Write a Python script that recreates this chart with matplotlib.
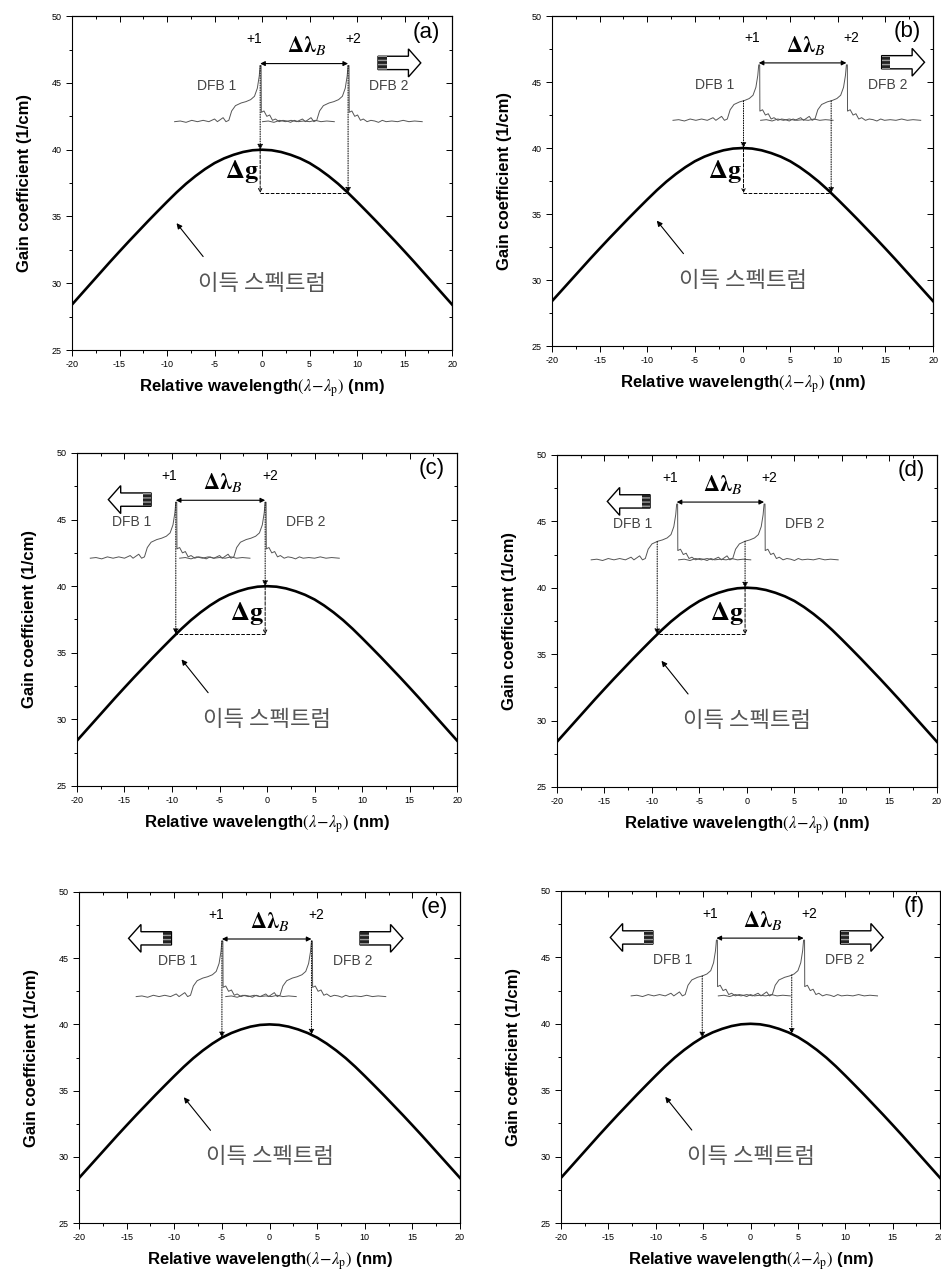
import numpy as np
import matplotlib
matplotlib.use('Agg')
import matplotlib.pyplot as plt
from matplotlib.patches import FancyArrow, Rectangle
from matplotlib.ticker import MultipleLocator

plt.rcParams['font.family'] = ['Liberation Sans', 'Noto Sans CJK KR', 'DejaVu Sans']
plt.rcParams['axes.unicode_minus'] = False

# gain spectrum (same in every panel)
wl = list(range(-20, 21))
gain = [28.4, 29.2, 30.0, 30.8, 31.6, 32.38, 33.15, 33.9, 34.65, 35.38, 36.1,
        36.8, 37.45, 38.03, 38.55, 39.0, 39.35, 39.62, 39.83, 39.96, 40.0,
        39.96, 39.83, 39.62, 39.35, 39.0, 38.55, 38.03, 37.45, 36.8, 36.1,
        35.38, 34.65, 33.9, 33.15, 32.38, 31.6, 30.8, 30.0, 29.2, 28.4]

# DFB lasing spectrum sketch: offset from the lasing mode (nm), level on the gain axis
spec_dx = [-9.0, -8.4, -7.8, -7.2, -6.6, -6.0, -5.4, -4.8, -4.5, -4.2, -3.9, -3.6, -3.3,
           -3.0, -2.6, -2.0, -1.5, -1.0, -0.6, -0.3, -0.1, 0.0, 0.1, 0.12, 0.4, 0.7,
           1.0, 1.3, 1.6, 2.0, 2.4, 2.8, 3.2, 3.6, 4.0, 4.6, 5.2, 5.8, 6.4, 7.0, 7.8]
spec_g = [42.1, 42.15, 42.05, 42.2, 42.1, 42.2, 42.1, 42.3, 42.1, 42.25, 42.4, 42.1, 42.2,
          42.9, 43.3, 43.5, 43.6, 43.75, 44.0, 44.6, 45.5, 46.3, 46.3, 42.8, 42.9, 42.5,
          42.6, 42.2, 42.3, 42.1, 42.2, 42.15, 42.05, 42.2, 42.1, 42.15, 42.1, 42.2, 42.1,
          42.15, 42.1]

panel_tags = ['(a)', '(b)', '(c)', '(d)', '(e)', '(f)']
mode1 = [-0.2, 1.7, -9.6, -7.4, -5.0, -3.6]     # +1 mode (DFB 1)
mode2 = [9.05, 10.9, -0.2, 1.8, 4.4, 5.6]       # +2 mode (DFB 2)
probe1 = [-0.2, 0.1, -9.6, -9.45, -5.0, -5.1]   # where DFB 1 drops onto the gain curve
probe2 = [9.05, 9.3, -0.2, -0.2, 4.4, 4.35]     # where DFB 2 drops onto the gain curve
show_dg = [True, True, True, True, False, False]
left_tail = [None, None, -12.2, -10.2, -10.3, -10.3]
right_tail = [12.2, 14.6, None, None, 9.5, 9.5]

rects = [(0.0765, 0.7274, 0.404, 0.260), (0.5866, 0.7305, 0.405, 0.257),
         (0.0818, 0.3879, 0.404, 0.2593), (0.5919, 0.3871, 0.4038, 0.2586),
         (0.0840, 0.0475, 0.4049, 0.2578), (0.5962, 0.0475, 0.4028, 0.2586)]


def block_arrow(ax, tail, d):
    ax.add_patch(FancyArrow(tail, 46.5, d * 4.5, 0, width=1.0, head_width=2.1,
                            head_length=1.3, length_includes_head=True,
                            fc='white', ec='k', lw=1.0, zorder=4))
    x0 = tail if d > 0 else tail - 0.9
    ax.add_patch(Rectangle((x0, 46.0), 0.9, 1.0, fc='#222222', ec='#999999',
                           hatch='----', lw=0, zorder=5))


fig = plt.figure(figsize=(9.41, 12.84), dpi=100)

for i, r in enumerate(rects):
    ax = fig.add_axes(r)
    ax.plot(wl, gain, color='k', lw=1.9, zorder=3)
    ax.set_xlim(-20, 20)
    ax.set_ylim(25, 50)
    ax.xaxis.set_major_locator(MultipleLocator(5))
    ax.xaxis.set_minor_locator(MultipleLocator(2.5))
    ax.yaxis.set_major_locator(MultipleLocator(5))
    ax.yaxis.set_minor_locator(MultipleLocator(2.5))
    ax.tick_params(which='both', direction='out', labelsize=6.5, width=0.7)
    ax.tick_params(which='major', length=4)
    ax.tick_params(which='minor', length=2.5)
    for s in ax.spines.values():
        s.set_linewidth(0.8)

    top = ax.secondary_xaxis('top')
    top.xaxis.set_major_locator(MultipleLocator(5))
    top.xaxis.set_minor_locator(MultipleLocator(2.5))
    top.tick_params(which='both', direction='in', labeltop=False, width=0.7)
    top.tick_params(which='major', length=4)
    top.tick_params(which='minor', length=2.5)
    right = ax.secondary_yaxis('right')
    right.yaxis.set_major_locator(MultipleLocator(5))
    right.yaxis.set_minor_locator(MultipleLocator(2.5))
    right.tick_params(which='both', direction='in', labelright=False, width=0.7)
    right.tick_params(which='major', length=4)
    right.tick_params(which='minor', length=2.5)

    ax.set_ylabel('Gain coefficient (1/cm)', fontsize=12, fontweight='bold', labelpad=14)
    ax.set_xlabel(r'Relative wavelength$(\lambda\!-\!\lambda_{\rm p})$ (nm)', fontsize=12,
                  fontweight='bold', labelpad=6, math_fontfamily='stix')

    m1, m2 = mode1[i], mode2[i]
    for m in (m1, m2):
        ax.plot(np.array(spec_dx) + m, spec_g, color='#555555', lw=0.7, zorder=2)

    # mode spacing
    ax.annotate('', xy=(m2, 46.45), xytext=(m1, 46.45),
                arrowprops=dict(arrowstyle='<|-|>', color='k', lw=0.8,
                                mutation_scale=7, shrinkA=0, shrinkB=0))
    ax.text(m1 - 0.65, 48.3, '+1', fontsize=10, ha='center', va='center')
    ax.text(m2 + 0.55, 48.3, '+2', fontsize=10, ha='center', va='center')
    ax.text((m1 + m2) / 2 + 0.3, 47.8, r'$\mathbf{\Delta\lambda}_{B}$', fontsize=16,
            ha='center', va='center', math_fontfamily='stix')
    ax.text(m1 - 4.6, 44.8, 'DFB 1', fontsize=10, color='#444444', ha='center', va='center')
    ax.text(m2 + 4.3, 44.8, 'DFB 2', fontsize=10, color='#444444', ha='center', va='center')

    # dotted drops onto the gain curve
    pg = []
    for p, m in ((probe1[i], m1), (probe2[i], m2)):
        y0 = np.interp(p - m, spec_dx, spec_g)
        y1 = np.interp(p, wl, gain)
        pg.append(y1)
        ax.annotate('', xy=(p, y1), xytext=(p, y0),
                    arrowprops=dict(arrowstyle='-|>', ls=(0, (1, 1.5)), lw=0.7, color='k',
                                    mutation_scale=8, shrinkA=0, shrinkB=0), zorder=4)

    if show_dg[i]:
        if pg[0] > pg[1]:
            xh, gh, xl, gl = probe1[i], pg[0], probe2[i], pg[1]
        else:
            xh, gh, xl, gl = probe2[i], pg[1], probe1[i], pg[0]
        ax.annotate('', xy=(xh, gl), xytext=(xh, gh),
                    arrowprops=dict(arrowstyle='->', ls='--', lw=0.7, color='k',
                                    mutation_scale=6, shrinkA=0, shrinkB=0))
        ax.plot([xh, xl], [gl, gl], ls='--', lw=0.7, color='k')
        ax.text(xh - 1.9, gl + 1.6, r'$\mathbf{\Delta g}$', fontsize=19,
                ha='center', va='center', math_fontfamily='stix')

    if left_tail[i] is not None:
        block_arrow(ax, left_tail[i], -1)
    if right_tail[i] is not None:
        block_arrow(ax, right_tail[i], 1)

    ax.text(0, 30.0, '이득 스펙트럼', fontsize=16, color='#555555', ha='center', va='center',
            family=['Noto Sans CJK KR', 'DejaVu Sans'], fontweight='light')
    ax.annotate('', xy=(-9.0, 34.5), xytext=(-6.2, 32.0),
                arrowprops=dict(arrowstyle='-|>', color='k', lw=0.8, mutation_scale=8,
                                shrinkA=0, shrinkB=0))
    ax.text(17.3, 48.8, panel_tags[i], fontsize=16, ha='center', va='center')

fig.savefig('out.png', dpi=100)
